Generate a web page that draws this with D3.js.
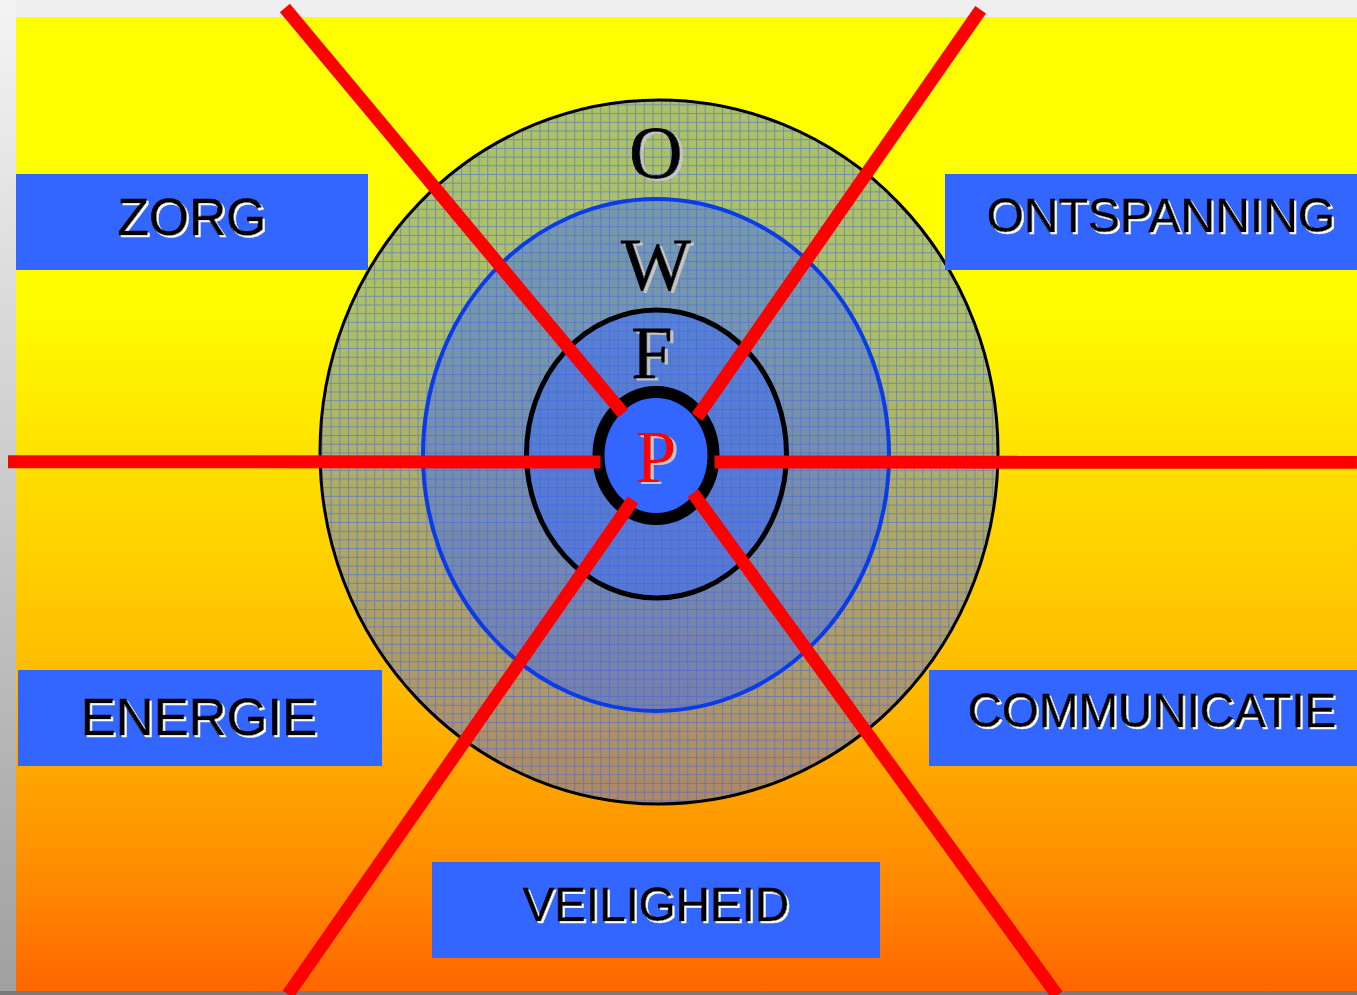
<!DOCTYPE html>
<html>
<head>
<meta charset="utf-8">
<script src="https://cdn.jsdelivr.net/npm/d3@7"></script>
<style>
  body { margin: 0; background: #eeeeee; }
  svg { display: block; }
</style>
</head>
<body>
<svg id="chart" width="1357" height="995"></svg>
<script>
// labels of the outer boxes
var categories = ["ZORG", "ONTSPANNING", "ENERGIE", "COMMUNICATIE", "VEILIGHEID"];
// letters of the rings, outside in, and the core
var ringLetters = ["O", "W", "F"];
var coreLetter = "P";
// spokes: angle (deg, clockwise from north) and distance at both ends
var spokeInnerAngle = [-38.2, 47.2, 96.8, 262.9, 207.1, 135.8];
var spokeOuterAngle = [-39.7, 36.1, 90.6, 269.4, 214.3, 143.4];
var spokeInnerDist = [53, 56, 59, 56, 50.5, 53];
var spokeOuterDist = [581, 551, 701, 648, 653, 673];

var svg = d3.select("#chart"),
    width = +svg.attr("width"),
    height = +svg.attr("height"),
    cx = 656, cy = 455;

var defs = svg.append("defs");

var bg = defs.append("linearGradient").attr("id", "bg")
    .attr("x1", 0).attr("y1", 0).attr("x2", 0).attr("y2", 1);
[[0, "#ffff00"], [0.3, "#fffc00"], [0.5, "#ffd800"], [0.7, "#ffb800"], [0.88, "#ff8c00"], [1, "#ff6600"]]
  .forEach(s => bg.append("stop").attr("offset", s[0]).attr("stop-color", s[1]));

var side = defs.append("linearGradient").attr("id", "side")
    .attr("x1", 0).attr("y1", 0).attr("x2", 0).attr("y2", 1);
side.append("stop").attr("offset", 0).attr("stop-color", "#f4f4f4");
side.append("stop").attr("offset", 1).attr("stop-color", "#a0a0a0");

var grid = defs.append("pattern").attr("id", "grid")
    .attr("patternUnits", "userSpaceOnUse")
    .attr("width", 8.7).attr("height", 8.7);
grid.append("path")
    .attr("d", "M0,0.5H8.7M0.5,0V8.7")
    .attr("stroke", "#3d62f0").attr("stroke-opacity", 0.55).attr("stroke-width", 1);

// hard offset shadow behind text
function shadow(id, color, dx, dy) {
  var f = defs.append("filter").attr("id", id)
      .attr("x", "-10%").attr("y", "-10%").attr("width", "130%").attr("height", "130%");
  f.append("feFlood").attr("flood-color", color).attr("result", "c");
  f.append("feComposite").attr("in", "c").attr("in2", "SourceAlpha").attr("operator", "in").attr("result", "s");
  f.append("feOffset").attr("in", "s").attr("dx", dx).attr("dy", dy).attr("result", "o");
  var m = f.append("feMerge");
  m.append("feMergeNode").attr("in", "o");
  m.append("feMergeNode").attr("in", "SourceGraphic");
}
shadow("whiteShadow", "#ffffff", 2, 2);
shadow("grayShadow", "#c4c4c4", 3, 2);

// page frame
svg.append("rect").attr("width", width).attr("height", height).attr("fill", "#eeeeee");
svg.append("rect").attr("x", 0).attr("y", 0).attr("width", 16).attr("height", height).attr("fill", "url(#side)");
svg.append("rect").attr("x", 0).attr("y", 991).attr("width", width).attr("height", 4).attr("fill", "#7a7a7a");
svg.append("rect").attr("x", 16).attr("y", 17).attr("width", width - 16).attr("height", 974).attr("fill", "url(#bg)");

// rings
var ellipses = [
  {x: 659, y: 452, rx: 339, ry: 352, stroke: "#000", sw: 3, op: 0.4},
  {x: 656, y: 455, rx: 233, ry: 256, stroke: "#0a3be8", sw: 4, op: 0.45},
  {x: 656.5, y: 454, rx: 130, ry: 144, stroke: "#000", sw: 5, op: 0.45}
];

svg.append("g").selectAll("ellipse")
  .data(ellipses)
  .enter()
  .append("ellipse")
  .attr("cx", d => d.x).attr("cy", d => d.y)
  .attr("rx", d => d.rx).attr("ry", d => d.ry)
  .attr("fill", "#3366ff")
  .attr("fill-opacity", d => d.op);

svg.append("ellipse")
  .attr("cx", ellipses[0].x).attr("cy", ellipses[0].y)
  .attr("rx", ellipses[0].rx).attr("ry", ellipses[0].ry)
  .attr("fill", "url(#grid)");

svg.append("g").selectAll("ellipse")
  .data(ellipses)
  .enter()
  .append("ellipse")
  .attr("cx", d => d.x).attr("cy", d => d.y)
  .attr("rx", d => d.rx).attr("ry", d => d.ry)
  .attr("fill", "none")
  .attr("stroke", d => d.stroke)
  .attr("stroke-width", d => d.sw);

// ring letters
var letterY = [178, 290, 378];
var letterX = [656, 656, 652];
var lg = svg.append("g")
  .style("font-family", "'Liberation Serif', 'Times New Roman', serif")
  .style("font-size", "74px")
  .attr("text-anchor", "middle")
  .attr("filter", "url(#grayShadow)");

lg.selectAll("text")
  .data(ringLetters)
  .enter()
  .append("text")
  .attr("x", (d, i) => letterX[i]).attr("y", (d, i) => letterY[i])
  .attr("fill", "#000")
  .attr("stroke", "#000").attr("stroke-width", 0.8)
  .text(d => d);

// core
svg.append("ellipse")
  .attr("cx", 656).attr("cy", 455.5)
  .attr("rx", 57.5).attr("ry", 63.5)
  .attr("fill", "#3366ff")
  .attr("stroke", "#000").attr("stroke-width", 12);

// spokes
var rad = Math.PI / 180;
var spokes = spokeInnerAngle.map((a, i) => {
  var p0 = d3.pointRadial(a * rad, spokeInnerDist[i]),
      p1 = d3.pointRadial(spokeOuterAngle[i] * rad, spokeOuterDist[i]);
  return [[cx + p0[0], cy + p0[1]], [cx + p1[0], cy + p1[1]]];
});

svg.append("g").selectAll("path")
  .data(spokes)
  .enter()
  .append("path")
  .attr("d", d3.line())
  .attr("stroke", "#ff0000")
  .attr("stroke-width", 13)
  .attr("fill", "none");

svg.append("text")
  .attr("x", 656).attr("y", 482)
  .attr("text-anchor", "middle")
  .style("font-family", "'Liberation Serif', 'Times New Roman', serif")
  .style("font-size", "74px")
  .attr("fill", "#ff0000")
  .attr("filter", "url(#grayShadow)")
  .text(coreLetter);

// label boxes
var boxes = [
  {x: 16, y: 174, w: 352, h: 96, tx: 192, ty: 235, fs: 51.5},
  {x: 945, y: 174, w: 412, h: 96, tx: 1161, ty: 232, fs: 48},
  {x: 18, y: 670, w: 364, h: 96, tx: 199, ty: 735, fs: 52.5},
  {x: 929, y: 670, w: 428, h: 96, tx: 1152, ty: 727, fs: 47.5},
  {x: 432, y: 862, w: 448, h: 96, tx: 656, ty: 921, fs: 47.5}
];

var bx = svg.append("g").selectAll("g")
  .data(categories)
  .enter()
  .append("g");

bx.append("rect")
  .attr("x", (d, i) => boxes[i].x).attr("y", (d, i) => boxes[i].y)
  .attr("width", (d, i) => boxes[i].w).attr("height", (d, i) => boxes[i].h)
  .attr("fill", "#3366ff");

bx.append("text")
  .attr("x", (d, i) => boxes[i].tx).attr("y", (d, i) => boxes[i].ty)
  .attr("text-anchor", "middle")
  .style("font-family", "'Liberation Sans', Arial, sans-serif")
  .style("font-size", (d, i) => boxes[i].fs + "px")
  .attr("fill", "#000")
  .attr("stroke", "#000").attr("stroke-width", 0.6)
  .attr("filter", "url(#whiteShadow)")
  .text(d => d);
</script>
</body>
</html>
